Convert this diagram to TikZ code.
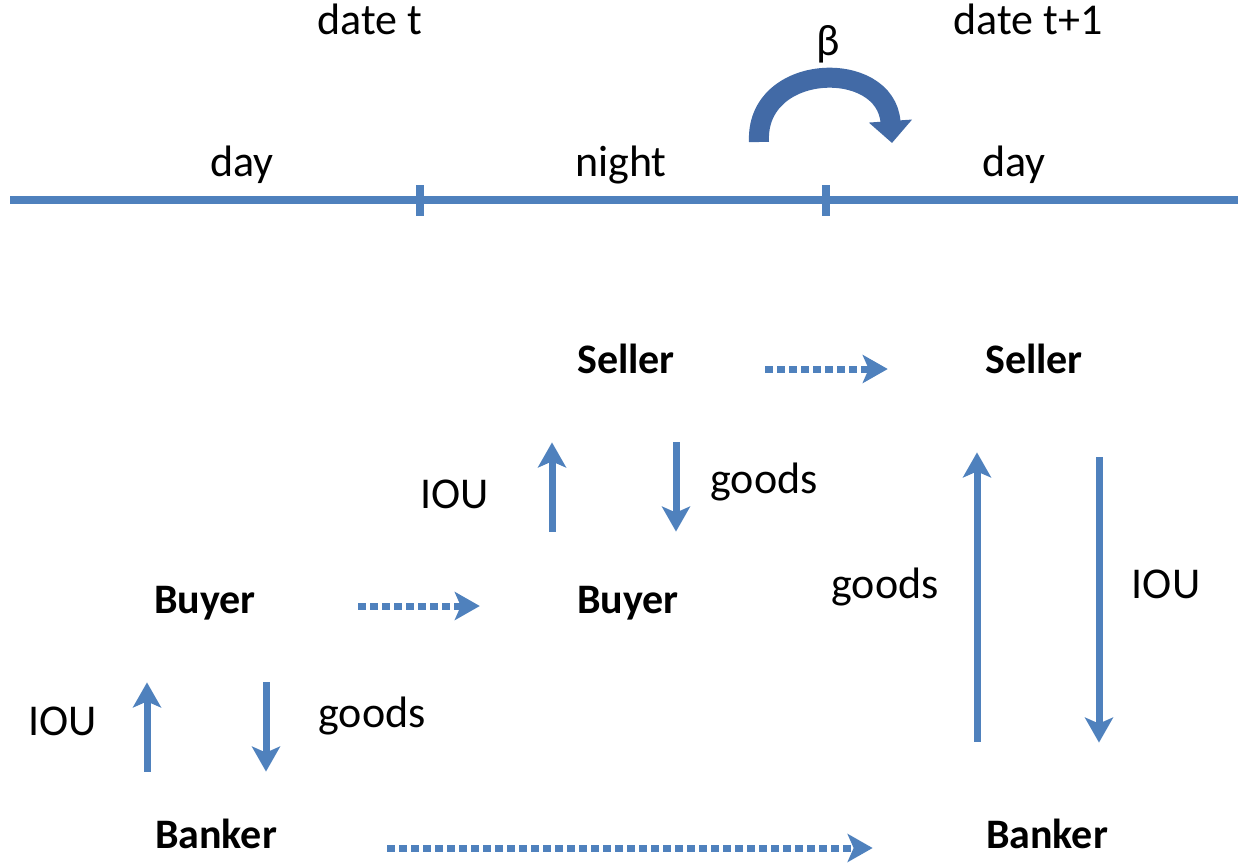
\documentclass[tikz,border=0pt]{standalone}
\usepackage{fontspec}
\setmainfont{Carlito}
\usetikzlibrary{arrows.meta,positioning}
\definecolor{lineblue}{RGB}{79,129,189}
\definecolor{betablue}{RGB}{66,106,166}
\tikzset{
  agent/.style={font=\fontsize{21}{25}\selectfont\bfseries, anchor=base, inner sep=0pt, text height=14pt, text depth=4pt},
  lbl/.style={font=\fontsize{22}{26}\selectfont, anchor=base, inner sep=0pt},
  flow/.style={lineblue, line width=3.5pt, -{Stealth[length=12.5pt,width=14pt,inset=3pt]}},
  later/.style={flow, dash pattern=on 4pt off 2pt},
}
\begin{document}
\begin{tikzpicture}[x=0.5pt,y=-0.5pt]
        \useasboundingbox (0,0) rectangle (1238,863);
        % Dates and periods
        \node[lbl] (datet) at (370,34) {date t};
        \node[lbl] (datet1) at (1028,34) {date t+1};
        \node[lbl] (beta) at (828,55) {β};
        \node[lbl] (day1) at (242,176) {day};
        \node[lbl] (night) at (621,176) {night};
        \node[lbl] (day2) at (1014,176) {day};
        % Time line
        \draw[lineblue, line width=4pt] (10,200) -- (1238,200);
        \foreach \x in {420,826}
            \draw[lineblue, line width=4pt] (\x,185) -- (\x,216);
        % Discounting
        \draw[betablue, line width=10pt, -{Triangle[length=11pt,width=21pt]}] (759,142) .. controls (755,62) and (886,58) .. (892,143);
        % Agents
        \node[agent] (sel1) at (626,373) {Seller};
        \node[agent] (sel2) at (1034,373) {Seller};
        \node[agent] (buy1) at (205,613) {Buyer};
        \node[agent] (buy2) at (628,613) {Buyer};
        \node[agent] (bank1) at (216,848) {Banker};
        \node[agent] (bank2) at (1047,848) {Banker};
        % Labels of the trades
        \node[lbl] (iou1) at (63,735) {IOU};
        \node[lbl] (goods1) at (372,727) {goods};
        \node[lbl] (iou2) at (455,508) {IOU};
        \node[lbl] (goods2) at (764,493) {goods};
        \node[lbl] (goods3) at (885,598) {goods};
        \node[lbl] (iou3) at (1166,598) {IOU};
        % Trades in the day of date t
        \draw[flow, shorten <=24pt, shorten >=30.5pt] ([xshift=-34.5pt]bank1.north) -- ([xshift=-29pt]buy1.south);
        \draw[flow, shorten <=30.5pt, shorten >=24pt] ([xshift=30.5pt]buy1.south) -- ([xshift=25pt]bank1.north);
        % Trades at night
        \draw[flow, shorten <=26.5pt, shorten >=30.5pt] ([xshift=-38pt]buy2.north) -- ([xshift=-37pt]sel1.south);
        \draw[flow, shorten <=30.5pt, shorten >=26.5pt] ([xshift=25pt]sel1.south) -- ([xshift=24pt]buy2.north);
        % Trades in the day of date t+1
        \draw[flow, shorten <=39pt, shorten >=35.5pt] ([xshift=-35pt]bank2.north) -- ([xshift=-28.5pt]sel2.south);
        \draw[flow, shorten <=38pt, shorten >=38.5pt] ([xshift=32.5pt]sel2.south) -- ([xshift=26pt]bank2.north);
        % Moving on in time
        \draw[later, shorten <=45pt, shorten >=48.5pt] ([yshift=-3pt]sel1.east) -- ([yshift=-3pt]sel2.west);
        \draw[later, shorten <=51pt, shorten >=48.5pt] ([yshift=-1.5pt]buy1.east) -- ([yshift=-1.5pt]buy2.west);
        \draw[later, shorten <=55pt, shorten >=56.5pt] ([yshift=-5pt]bank1.east) -- ([yshift=-5pt]bank2.west);
    \end{tikzpicture}
\end{document}
